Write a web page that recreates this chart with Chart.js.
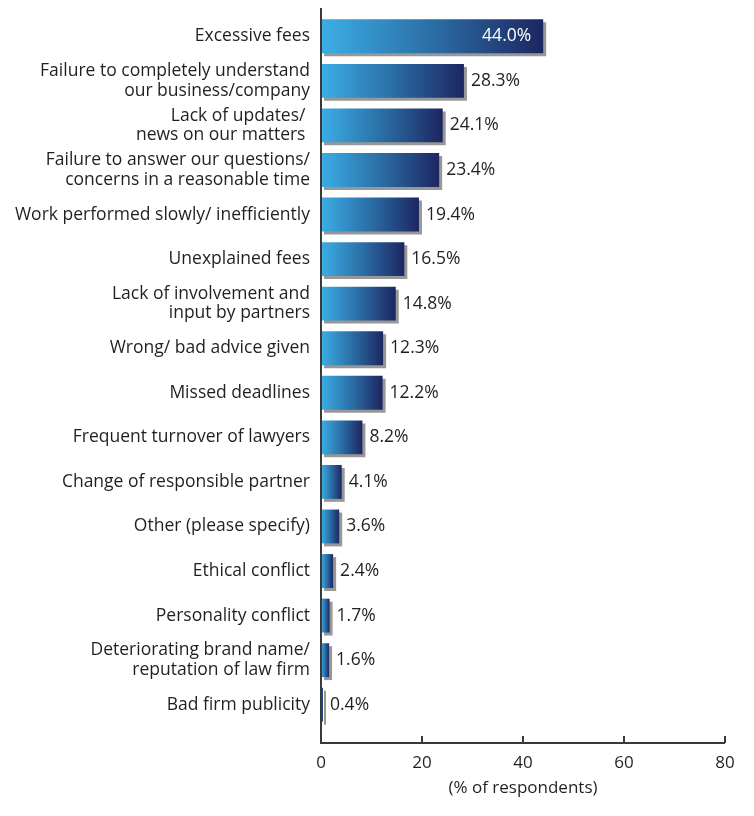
<!DOCTYPE html>
<html>
<head>
<meta charset="utf-8">
<script src="https://cdn.jsdelivr.net/npm/chart.js@4"></script>
<style>
  html, body { margin: 0; padding: 0; background: #fff; }
  #wrap { width: 754px; height: 816px; }
</style>
</head>
<body>
<div id="wrap"><canvas id="chart"></canvas></div>
<script>
const reasons = [
  'Excessive fees',
  ['Failure to completely understand', 'our business/company'],
  ['Lack of updates/ ', 'news on our matters '],
  ['Failure to answer our questions/', 'concerns in a reasonable time'],
  'Work performed slowly/ inefficiently',
  'Unexplained fees',
  ['Lack of involvement and', 'input by partners'],
  'Wrong/ bad advice given',
  'Missed deadlines',
  'Frequent turnover of lawyers',
  'Change of responsible partner',
  'Other (please specify)',
  'Ethical conflict',
  'Personality conflict',
  ['Deteriorating brand name/', 'reputation of law firm'],
  'Bad firm publicity'
];
const shares = [44.0, 28.3, 24.1, 23.4, 19.4, 16.5, 14.8, 12.3, 12.2, 8.2, 4.1, 3.6, 2.4, 1.7, 1.6, 0.4];
const xTicks = [0, 20, 40, 60, 80];

const FONT = '"Open Sans", Lato, sans-serif';
const INK = '#231f20';

// gradient stretched over each bar's own length
function barFill(ctx) {
  const chart = ctx.chart;
  const x = chart.scales.x;
  if (!x || ctx.raw == null) return '#2a6aa2';
  const x0 = x.getPixelForValue(0);
  const x1 = x.getPixelForValue(ctx.raw);
  if (!isFinite(x0) || !isFinite(x1)) return '#2a6aa2';
  const g = chart.ctx.createLinearGradient(x0, 0, Math.max(x1, x0 + 1), 0);
  g.addColorStop(0, '#3caee6');
  g.addColorStop(0.5, '#2b6ea6');
  g.addColorStop(1, '#1d2661');
  return g;
}

const extras = {
  id: 'extras',
  beforeDatasetsDraw(chart) {
    const c = chart.ctx;
    c.save();
    c.shadowColor = 'rgba(140,140,140,0.9)';
    c.shadowOffsetX = 3;
    c.shadowOffsetY = 3;
    c.shadowBlur = 0;
  },
  afterDatasetsDraw(chart) {
    const c = chart.ctx;
    c.restore();
    const x = chart.scales.x;
    const left = x.getPixelForValue(0);
    const axisY = 743;

    // axes
    c.save();
    c.strokeStyle = '#3a3a3a';
    c.lineWidth = 2;
    c.beginPath();
    c.moveTo(left, 8);
    c.lineTo(left, axisY);
    c.lineTo(x.getPixelForValue(80), axisY);
    c.stroke();
    xTicks.forEach(v => {
      const px = x.getPixelForValue(v);
      c.beginPath();
      c.moveTo(px, axisY - 7);
      c.lineTo(px, axisY);
      c.stroke();
    });
    c.restore();

    // value labels
    const meta = chart.getDatasetMeta(0);
    c.save();
    c.font = '17.5px ' + FONT;
    c.textBaseline = 'middle';
    meta.data.forEach((bar, i) => {
      const txt = shares[i].toFixed(1) + '%';
      if (i === 0) {
        c.fillStyle = '#ffffff';
        c.textAlign = 'right';
        c.fillText(txt, bar.x - 12, bar.y);
      } else {
        c.fillStyle = INK;
        c.textAlign = 'left';
        c.fillText(txt, bar.x + 7, bar.y);
      }
    });
    c.restore();
  }
};

new Chart(document.getElementById('chart'), {
  type: 'bar',
  data: {
    labels: reasons,
    datasets: [{
      data: shares,
      backgroundColor: barFill,
      borderWidth: 0,
      categoryPercentage: 1,
      barPercentage: 0.76
    }]
  },
  options: {
    indexAxis: 'y',
    responsive: true,
    maintainAspectRatio: false,
    animation: false,
    layout: { padding: { top: 14, right: 29, left: 0, bottom: 0 } },
    plugins: { legend: { display: false }, tooltip: { enabled: false } },
    scales: {
      x: {
        min: 0,
        max: 80,
        afterBuildTicks(s) { s.ticks = xTicks.map(v => ({ value: v })); },
        afterFit(s) { s.height = 89; s.paddingLeft = 0; s.paddingRight = 0; },
        grid: { display: false, drawTicks: false },
        border: { display: false },
        ticks: { padding: 26, color: INK, font: { family: FONT, size: 17 } },
        title: {
          display: true,
          text: '(% of respondents)',
          color: INK,
          font: { family: FONT, size: 17 },
          padding: { top: 0, bottom: 18 }
        }
      },
      y: {
        afterFit(s) { s.width = 321; s.paddingTop = 0; s.paddingBottom = 0; },
        grid: { display: false, drawTicks: false },
        border: { display: false },
        ticks: { padding: 11, color: INK, font: { family: FONT, size: 17.5, lineHeight: 1.12 } }
      }
    }
  },
  plugins: [extras]
});
</script>
</body>
</html>
